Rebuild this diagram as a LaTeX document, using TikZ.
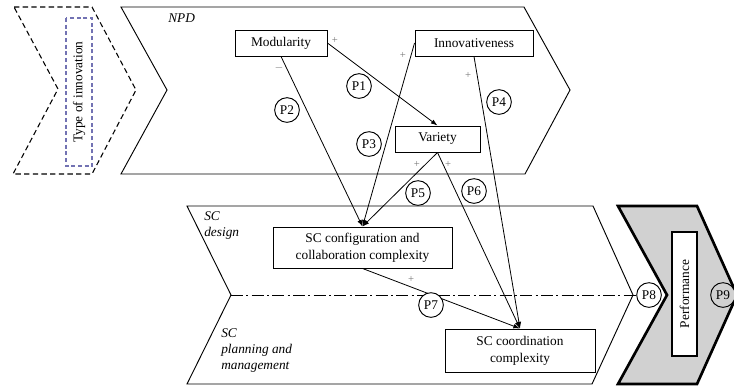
\documentclass[tikz,border=0pt]{standalone}
\usepackage{fontspec}
\setmainfont{Liberation Serif}
\usetikzlibrary{arrows.meta}

\begin{document}
\begin{tikzpicture}[
    x=0.75pt, y=-0.75pt,
    font=\fontsize{10}{12.5}\selectfont,
    box/.style={draw, line width=0.7pt, inner sep=1pt, align=center},
    prop/.style={circle, draw, line width=0.7pt, fill=white, minimum size=18.5pt, inner sep=0pt},
    sgn/.style={inner sep=0pt, text=black!55, font=\fontsize{8}{8}\selectfont},
    arr/.style={-{Latex[length=5pt,width=3.5pt]}, line width=0.6pt},
    zone/.style={font=\itshape, align=left, anchor=north west, inner sep=0pt}
    ]
	\useasboundingbox (0,0) rectangle (734,387);
	% stages
	\draw[dashed, line width=0.8pt, dash pattern=on 4pt off 2.5pt] (14,7) -- (92,7) -- (136,90) -- (92,174) -- (13,174) -- (58,89) -- cycle;
	\draw[line width=0.7pt] (121,7) -- (524,7) -- (570,90) -- (525,174) -- (121,174) -- (167,90) -- cycle;
	\draw[line width=0.7pt] (187,206) -- (593,206) -- (633,295) -- (592,384) -- (187,384) -- (231,295) -- cycle;
	\draw[line width=2pt, fill=black!18] (618,206) -- (697,206) -- (737,295) -- (697,384) -- (618,384) -- (667,295) -- cycle;
	\node [zone] (npd) at (168,13) {NPD};
	\node [zone] (scd) at (204,211) {SC\\design};
	\node [zone] (scp) at (221,328) {SC\\planning and\\management};
	\node [box, draw=blue!30!gray!85, line width=0.8pt, dash pattern=on 3pt off 2pt, rotate=90, minimum width=111pt, minimum height=19.5pt] (type) at (79,92) {Type of innovation};
	\node [box, line width=2pt, fill=white, rotate=90, minimum width=93pt, minimum height=18.75pt] (perf) at (684.5,294) {Performance};
	% constructs
	\node [box, minimum width=69pt, minimum height=19.5pt] (mod) at (281,43) {Modularity};
	\node [box, minimum width=88.5pt, minimum height=19.5pt] (inn) at (474,43) {Innovativeness};
	\node [box, minimum width=63.75pt, minimum height=19.5pt] (var) at (437.5,139) {Variety};
	\node [box, minimum width=134.25pt, minimum height=30.75pt] (cfg) at (362.5,247.5) {SC configuration and\\collaboration complexity};
	\node [box, minimum width=112.5pt, minimum height=32.25pt] (coord) at (520,350.5) {SC coordination\\complexity};
	% links
	\draw[arr] (mod.east) -- (var.north);
	\draw[arr] (mod.south) -- (cfg.north);
	\draw[arr] (inn.west) -- (cfg.north);
	\draw[arr] (inn.south) -- (coord.north);
	\draw[arr] (var.south) -- (cfg.north);
	\draw[arr] (var.south) -- (coord.north);
	\draw[arr] (cfg.south) -- (coord.north);
	\node [prop] (p8) at (649,295) {P8};
	\draw[line width=0.7pt, dash pattern=on 9pt off 2.5pt on 1.5pt off 2.5pt] (231,295) -- (p8.west);
	% signs
	\node [sgn] (s1) at (335,40) {+};
	\node [sgn] (s2) at (279,68) {$-$};
	\node [sgn] (s3) at (403,55) {+};
	\node [sgn] (s4) at (468,75) {+};
	\node [sgn] (s5) at (417,164) {+};
	\node [sgn] (s6) at (448,164) {+};
	\node [sgn] (s7) at (411,279) {+};
	% propositions
	\node [prop] (p1) at (359,86) {P1};
	\node [prop] (p2) at (287,110) {P2};
	\node [prop] (p3) at (369,144) {P3};
	\node [prop] (p4) at (499,102) {P4};
	\node [prop] (p5) at (418,193) {P5};
	\node [prop] (p6) at (474,191) {P6};
	\node [prop] (p7) at (431,305) {P7};
	\node [prop, fill=black!18] (p9) at (723,295) {P9};
\end{tikzpicture}
\end{document}
